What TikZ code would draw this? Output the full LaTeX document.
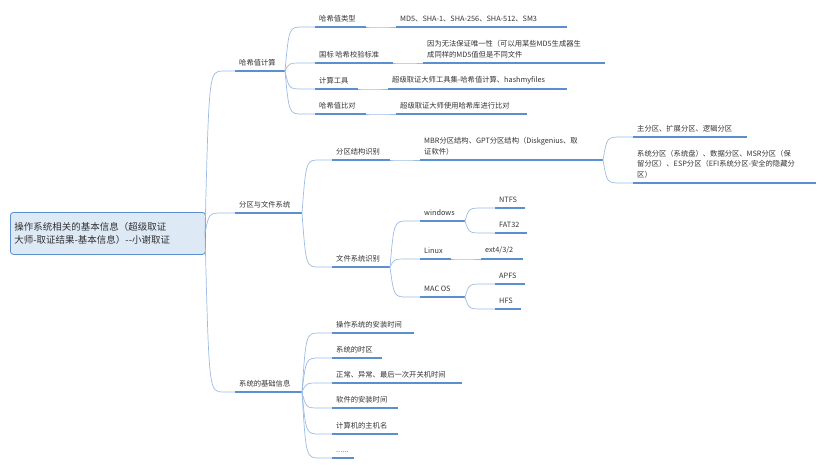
\documentclass[tikz,border=0pt]{standalone}
\usepackage{fontspec}
\setmainfont{Noto Sans CJK SC}
\usetikzlibrary{calc}
\definecolor{br}{HTML}{9DBBE3}
\definecolor{ul}{HTML}{5B8FD0}
\definecolor{tx}{HTML}{333333}
\tikzset{brl/.style={draw=br,line width=0.7pt},
 ull/.style={draw=ul,line width=1.3pt},
 lbl/.style={anchor=south west,inner sep=1pt,text=tx,font=\fontsize{7.3}{10.5}\selectfont,align=left}}
\newcommand\topic[5]{\coordinate (#1-s) at (#2,#4);\coordinate (#1-e) at (#3,#4);
 \draw[ull] (#1-s)--(#1-e);
 \node[lbl] (#1) at ($(#1-s)+(3,-4)$) {#5};}
\newcommand\conn[2]{\path[brl] let \p1=(#1-e), \p2=(#2-s) in (\p1) .. controls (\x1+4,\y2) .. ({\x1+0.6*(\x2-\x1)},\y2) -- (\p2);}
\begin{document}
\begin{tikzpicture}[x=1pt,y=-1pt]
\useasboundingbox (0,0) rectangle (829,467);
\node[draw=ul,fill=ul!20,rounded corners=3pt,line width=0.8pt,text=tx,align=left,
 font=\fontsize{9.5}{13.5}\selectfont,text width=187,minimum height=42,anchor=north west,inner sep=4pt] (root) at (10,212)
 {操作系统相关的基本信息（超级取证\\大师-取证结果-基本信息）{-}{-}小谢取证};
\coordinate (root-e) at (205,233);
\topic{h}{235}{285}{71}{哈希值计算}
\topic{p}{235}{302}{213}{分区与文件系统}
\topic{s}{235}{302}{392}{系统的基础信息}
\conn{root}{h}\conn{root}{p}\conn{root}{s}
\topic{h1}{315}{366}{27}{哈希值类型}
\topic{h1v}{396}{567}{27}{MD5、SHA-1、SHA-256、SHA-512、SM3}
\topic{h2}{315}{393}{63}{国标 哈希校验标准}
\topic{h2v}{423}{605}{63}{因为无法保证唯一性（可以用某些MD5生成器生\\成同样的MD5值但是不同文件}
\topic{h3}{315}{358}{89}{计算工具}
\topic{h3v}{388}{567}{89}{超级取证大师工具集-哈希值计算、hashmyfiles}
\topic{h4}{315}{366}{114}{哈希值比对}
\topic{h4v}{396}{527}{114}{超级取证大师使用哈希库进行比对}
\conn{h}{h1}\conn{h}{h2}\conn{h}{h3}\conn{h}{h4}
\conn{h1}{h1v}\conn{h2}{h2v}\conn{h3}{h3v}\conn{h4}{h4v}
\topic{p1}{332}{390}{160}{分区结构识别}
\topic{p1v}{420}{603}{160}{MBR分区结构、GPT分区结构（Diskgenius、取\\证软件）}
\topic{pa}{633}{747}{137}{主分区、扩展分区、逻辑分区}
\topic{pb}{633}{816}{183}{系统分区（系统盘）、数据分区、MSR分区（保\\留分区）、ESP分区（EFI系统分区-安全的隐藏分\\区）}
\conn{p}{p1}\conn{p1}{p1v}\conn{p1v}{pa}\conn{p1v}{pb}
\topic{p2}{332}{390}{267}{文件系统识别}
\topic{w}{420}{465}{221}{windows}
\topic{l}{420}{451}{259}{Linux}
\topic{m}{420}{465}{297}{MAC OS}
\topic{w1}{495}{525}{208}{NTFS}
\topic{w2}{495}{527}{233}{FAT32}
\topic{l1}{481}{523}{259}{ext4/3/2}
\topic{m1}{495}{525}{284}{APFS}
\topic{m2}{495}{521}{309}{HFS}
\conn{p}{p2}\conn{p2}{w}\conn{p2}{l}\conn{p2}{m}
\conn{w}{w1}\conn{w}{w2}\conn{l}{l1}\conn{m}{m1}\conn{m}{m2}
\topic{s1}{332}{414}{333}{操作系统的安装时间}
\topic{s2}{332}{382}{358}{系统的时区}
\topic{s3}{332}{462}{383}{正常、异常、最后一次开关机时间}
\topic{s4}{332}{398}{408}{软件的安装时间}
\topic{s5}{332}{398}{434}{计算机的主机名}
\topic{s6}{332}{354}{458}{......}
\conn{s}{s1}\conn{s}{s2}\conn{s}{s3}\conn{s}{s4}\conn{s}{s5}\conn{s}{s6}
\end{tikzpicture}
\end{document}
